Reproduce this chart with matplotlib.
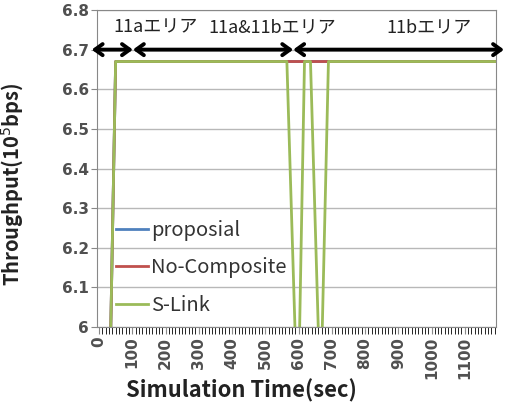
import matplotlib.pyplot as plt
import numpy as np

plt.rcParams['font.family'] = ['Noto Sans CJK JP', 'DejaVu Sans']

# values below 6.0 fall outside the plotted range (clipped like in the original)
time = [0, 35, 50, 565, 590, 603, 618, 636, 660, 671, 690, 1190]
proposial = [5.98, 5.98, 6.67, 6.67, 6.67, 6.67, 6.67, 6.67, 6.67, 6.67, 6.67, 6.67]
no_composite = [5.98, 5.98, 6.67, 6.67, 6.67, 6.67, 6.67, 6.67, 6.67, 6.67, 6.67, 6.67]
s_link = [5.98, 5.98, 6.67, 6.67, 5.98, 5.98, 6.67, 6.67, 5.98, 5.98, 6.67, 6.67]

x_ticks = list(range(0, 1101, 100))
y_ticks = [6.0, 6.1, 6.2, 6.3, 6.4, 6.5, 6.6, 6.7, 6.8]
y_ticklabels = ['6', '6.1', '6.2', '6.3', '6.4', '6.5', '6.6', '6.7', '6.8']

area_bounds = [-22, 102, 584, 1218]
area_labels = ['11aエリア', '11a&11bエリア', '11bエリア']
area_label_x = [169, 521, 991]
arrow_y = 6.7

fig = plt.figure(figsize=(5.09, 4.12), dpi=100)
ax = fig.add_axes([0.1906, 0.2063, 0.7839, 0.7694])

ax.plot(time, proposial, color='#4F81BD', lw=2, label='proposial')
ax.plot(time, no_composite, color='#C0504D', lw=2, label='No-Composite')
ax.plot(time, s_link, color='#9BBB59', lw=2, label='S-Link')

for i in range(3):
    ax.annotate('', xy=(area_bounds[i], arrow_y), xytext=(area_bounds[i + 1], arrow_y),
                arrowprops=dict(arrowstyle='<->,head_length=0.55,head_width=0.4',
                                color='black', lw=2.8, shrinkA=0, shrinkB=0),
                annotation_clip=False)
    ax.text(area_label_x[i], 6.755, area_labels[i], ha='center', va='center',
            fontsize=13, color='#222222')

tick_font = dict(family='DejaVu Sans', weight='bold', size=11)

ax.set_xlim(-6, 1194)
ax.set_ylim(6.0, 6.8)
ax.set_yticks(y_ticks)
ax.set_yticklabels(y_ticklabels, fontdict=tick_font)
ax.set_xticks(x_ticks)
ax.set_xticklabels([str(v) for v in x_ticks], rotation=90, fontdict=tick_font)
ax.set_xticks(np.arange(0, 1191, 10), minor=True)

ax.grid(axis='y', color='#b8b8b8', lw=1)
ax.set_axisbelow(True)
for s in ax.spines.values():
    s.set_color('#888888')
ax.tick_params(axis='both', colors='#888888', labelcolor='#505050', length=4,
               direction='out', pad=2)
ax.tick_params(axis='x', which='both', length=5)

ax.legend(loc='lower left', bbox_to_anchor=(0.048, 0.036), frameon=False, fontsize=14.5,
          handlelength=1.6, handletextpad=0.15, labelspacing=0.8, borderaxespad=0, borderpad=0,
          labelcolor='#333333')

fig.text(0.025, 0.553, 'Throughput(10$^5$bps)', rotation=90, ha='center', va='center',
         fontsize=14.5, fontweight='bold', color='#222222')
fig.text(0.475, 0.052, 'Simulation Time(sec)', ha='center', va='center',
         fontsize=15.8, fontweight='bold', color='#222222')

fig.savefig('out.png', dpi=100)
